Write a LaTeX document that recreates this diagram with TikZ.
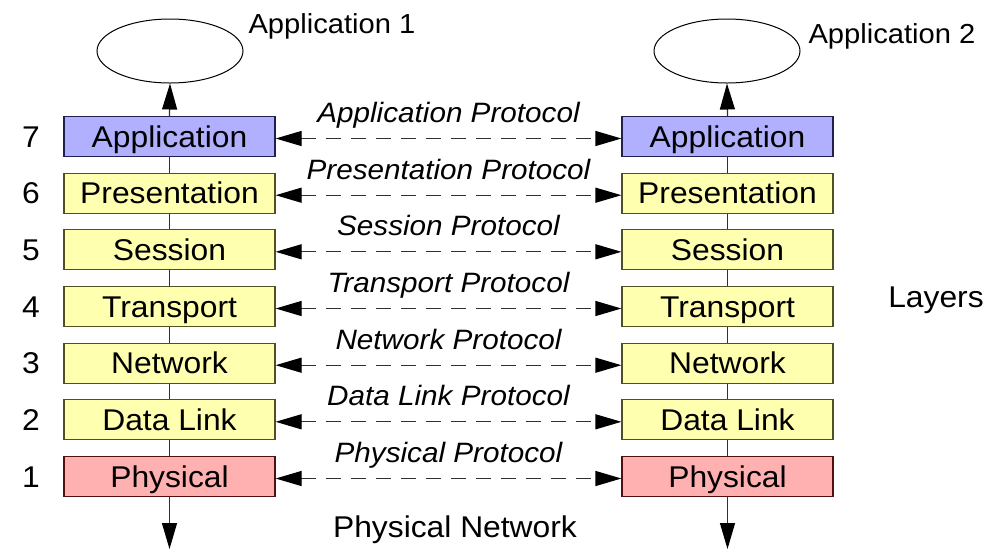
\documentclass[tikz,border=0pt]{standalone}
\usepackage{fontspec}
\setmainfont{Liberation Sans}[FakeStretch=1.06]
\usetikzlibrary{shapes.geometric,arrows.meta,calc}
\definecolor{appfill}{HTML}{B0B0FF}
\definecolor{appdraw}{HTML}{202050}
\definecolor{yelfill}{HTML}{FFFFB0}
\definecolor{yeldraw}{HTML}{505020}
\definecolor{redfill}{HTML}{FFB0B0}
\definecolor{reddraw}{HTML}{501010}
\definecolor{linegray}{HTML}{303030}
\tikzset{
  layerbox/.style={draw, line width=1.2pt, minimum width=211pt, minimum height=40pt, inner sep=0pt,
    font=\fontsize{30}{30}\selectfont, text height=21.5pt, text depth=0pt},
  applayer/.style={layerbox, fill=appfill, draw=appdraw},
  midlayer/.style={layerbox, fill=yelfill, draw=yeldraw},
  phylayer/.style={layerbox, fill=redfill, draw=reddraw},
  numlabel/.style={font=\fontsize{30}{30}\selectfont, text height=21.5pt, text depth=0pt, inner sep=0pt},
  biglabel/.style={font=\fontsize{30}{30}\selectfont, inner sep=0pt},
  applabel/.style={font=\fontsize{27.5}{27.5}\selectfont, inner sep=0pt},
  protolabel/.style={font=\fontsize{28}{28}\selectfont\itshape, inner sep=0pt, anchor=base},
  appoval/.style={draw, line width=1pt, ellipse, minimum width=146pt, minimum height=64pt, inner sep=0pt},
  bigtip/.tip={Triangle[length=26pt,width=15pt,color=black,fill=black]},
  tipend/.style={arrows={-bigtip}},
  stackline/.style={draw=linegray, line width=1.2pt},
  protoarrow/.style={arrows={bigtip-bigtip}, draw=linegray, line width=1.2pt, dash pattern=on 15pt off 10pt},
}
\begin{document}
\begin{tikzpicture}[x=1pt,y=-1pt]
\useasboundingbox (0,0) rectangle (988,550);
% left stack
\node[applayer] (L7) at (169.5,136.5) {Application};
\node[midlayer] (L6) at (169.5,193.2) {Presentation};
\node[midlayer] (L5) at (169.5,249.8) {Session};
\node[midlayer] (L4) at (169.5,306.5) {Transport};
\node[midlayer] (L3) at (169.5,363.2) {Network};
\node[midlayer] (L2) at (169.5,419.8) {Data Link};
\node[phylayer] (L1) at (169.5,476.5) {Physical};
% right stack
\node[applayer] (R7) at (727.5,136.5) {Application};
\node[midlayer] (R6) at (727.5,193.2) {Presentation};
\node[midlayer] (R5) at (727.5,249.8) {Session};
\node[midlayer] (R4) at (727.5,306.5) {Transport};
\node[midlayer] (R3) at (727.5,363.2) {Network};
\node[midlayer] (R2) at (727.5,419.8) {Data Link};
\node[phylayer] (R1) at (727.5,476.5) {Physical};
% numbers
\node[numlabel] (n7) at (31,136.5) {7};
\node[numlabel] (n6) at (31,193.2) {6};
\node[numlabel] (n5) at (31,249.8) {5};
\node[numlabel] (n4) at (31,306.5) {4};
\node[numlabel] (n3) at (31,363.2) {3};
\node[numlabel] (n2) at (31,419.8) {2};
\node[numlabel] (n1) at (31,476.5) {1};
% applications
\node[appoval] (A1) at (170,51) {};
\node[appoval] (A2) at (727,51) {};
\node[applabel, anchor=base] (A1t) at (332,33) {Application 1};
\node[applabel, anchor=base] (A2t) at (892,43) {Application 2};
\node[biglabel] (lay) at (936,300) {Layers};
\node[biglabel, anchor=base] (pn) at (455,537) {Physical Network};
\coordinate (Lend) at (169.5,549);
\coordinate (Rend) at (727.5,549);
% vertical connectors
\foreach \s in {L,R}{
  \draw[stackline] (\s7) -- (\s6);
  \draw[stackline] (\s6) -- (\s5);
  \draw[stackline] (\s5) -- (\s4);
  \draw[stackline] (\s4) -- (\s3);
  \draw[stackline] (\s3) -- (\s2);
  \draw[stackline] (\s2) -- (\s1);
}
\draw[stackline, tipend] (L7.north) -- (A1.south);
\draw[stackline, tipend] (R7.north) -- (A2.south);
\draw[stackline, tipend] (L1.south) -- (Lend);
\draw[stackline, tipend] (R1.south) -- (Rend);
% protocol arrows
\foreach \k/\t in {7/Application Protocol,6/Presentation Protocol,5/Session Protocol,4/Transport Protocol,3/Network Protocol,2/Data Link Protocol,1/Physical Protocol}{
  \draw[protoarrow] ([yshift=-2pt]L\k.east) -- ([yshift=-2pt]R\k.west);
  \node[protolabel] (p\k) at ([yshift=14pt]$(L\k.east)!0.5!(R\k.west)$) {\t};
}
\end{tikzpicture}
\end{document}
